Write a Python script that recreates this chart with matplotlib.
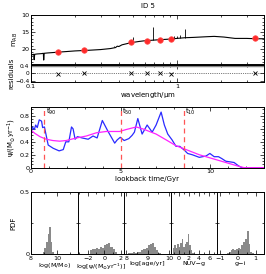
import numpy as np
import matplotlib
matplotlib.use("Agg")
import matplotlib.pyplot as plt
from matplotlib.ticker import MultipleLocator, NullFormatter

plt.rcParams['font.family'] = ['DejaVu Sans']
plt.rcParams['font.size'] = 5
plt.rcParams['xtick.labelsize'] = 4.6
plt.rcParams['ytick.labelsize'] = 4.6
plt.rcParams['mathtext.default'] = 'regular'

# photometry
phot_wl = [0.153, 0.231, 0.482, 0.626, 0.767, 0.910, 3.40]
phot_mag = [21.0, 20.4, 18.1, 17.6, 17.3, 17.1, 16.9]
resid = [-0.03, 0.02, 0.0, 0.0, 0.0, -0.03, 0.0]

# model spectrum (continuum)
spec_wl = [0.100, 0.1005, 0.102, 0.1045, 0.1052, 0.106, 0.110, 0.118, 0.1215, 0.1222, 0.1232,
           0.13, 0.15, 0.20, 0.25, 0.30, 0.35, 0.38, 0.39, 0.40, 0.42, 0.48, 0.55, 0.60,
           0.75, 0.90, 1.00, 1.13, 1.30, 1.60, 1.80, 2.10, 2.50, 3.00, 3.50, 3.95]
spec_mag = [23.6, 22.0, 21.7, 21.6, 23.2, 21.6, 21.5, 21.4, 21.3, 23.3, 21.3,
            21.2, 21.0, 20.6, 20.4, 20.2, 19.9, 19.6, 19.2, 19.3, 18.8, 18.2, 17.8, 17.6,
            17.3, 17.1, 16.9, 16.7, 16.6, 16.4, 16.3, 16.5, 16.9, 16.9, 17.0, 17.0]
# emission lines
line_wl = [0.373, 0.500, 0.685, 0.95, 1.00, 1.05, 1.135]
line_base = [19.5, 18.0, 17.4, 17.0, 16.9, 16.8, 16.7]
line_top = [19.0, 16.6, 13.4, 16.3, 16.1, 16.0, 14.1]

# star formation history
t_sfh = [0.0, 0.07, 0.19, 0.26, 0.35, 0.46, 0.59, 0.65, 0.75, 0.96, 1.24, 1.57, 1.80, 1.94,
         2.11, 2.26, 2.35, 2.46, 2.59, 2.85, 3.19, 3.46, 3.69, 3.98, 4.30, 4.67, 4.81, 4.98,
         5.20, 5.46, 5.64, 5.77, 5.96, 6.20, 6.48, 6.76, 6.98, 7.26, 7.44, 7.63, 7.87, 8.09,
         8.30, 8.56, 8.74, 9.00, 9.39, 9.76, 9.98, 10.22, 10.46, 10.65, 10.87, 11.11, 11.33,
         11.57, 11.76, 13.0]
psi_sfh = [0.51, 0.63, 0.59, 0.66, 0.62, 0.74, 0.72, 0.62, 0.63, 0.35, 0.30, 0.26, 0.28, 0.40,
           0.40, 0.63, 0.60, 0.44, 0.48, 0.46, 0.44, 0.49, 0.46, 0.73, 0.56, 0.38, 0.43, 0.47,
           0.42, 0.45, 0.50, 0.55, 0.76, 0.52, 0.66, 0.55, 0.66, 0.86, 0.66, 0.52, 0.43, 0.33,
           0.33, 0.27, 0.22, 0.20, 0.16, 0.18, 0.22, 0.17, 0.17, 0.14, 0.10, 0.09, 0.08,
           0.03, 0.0, 0.0]
t_smooth = [0.0, 0.22, 0.5, 0.85, 1.22, 1.6, 1.96, 2.54, 3.09, 3.65, 4.2, 4.94, 5.31, 5.87,
            6.24, 6.61, 6.98, 7.54, 8.09, 8.65, 9.39, 10.13, 10.87, 11.61, 11.9, 13.0]
psi_smooth = [0.58, 0.53, 0.48, 0.44, 0.42, 0.41, 0.42, 0.46, 0.49, 0.54, 0.56, 0.56, 0.59, 0.63,
              0.60, 0.56, 0.52, 0.43, 0.34, 0.28, 0.20, 0.14, 0.08, 0.02, 0.0, 0.0]
t_marks = [0.74, 5.0, 8.52]
t_names = ['90', '50', '10']

# posterior histograms
mass_c = [8.95, 9.075, 9.2, 9.325, 9.45, 9.575, 9.7]
mass_h = [0.02, 0.05, 0.10, 0.16, 0.22, 0.10, 0.02]
sfr_c = [-1.625, -1.375, -1.125, -0.875, -0.625, -0.375, -0.125, 0.125, 0.375, 0.625, 0.875, 1.125, 1.375]
sfr_h = [0.03, 0.04, 0.04, 0.05, 0.04, 0.06, 0.05, 0.07, 0.08, 0.09, 0.06, 0.04, 0.02]
age_c = [8.15, 8.25, 8.35, 8.45, 8.55, 8.65, 8.75, 8.85, 8.95, 9.05, 9.15, 9.25, 9.35, 9.45, 9.55]
age_h = [0.01, 0.01, 0.015, 0.01, 0.015, 0.02, 0.03, 0.04, 0.05, 0.07, 0.08, 0.09, 0.06, 0.03, 0.01]
nuvg_c = [-1.05, -0.75, -0.45, -0.15, 0.15, 0.45, 0.75, 1.05, 1.35, 1.65, 1.95, 2.25, 2.55, 2.85]
nuvg_h = [0.05, 0.07, 0.05, 0.08, 0.06, 0.09, 0.12, 0.06, 0.08, 0.10, 0.16, 0.07, 0.03, 0.01]
gi_c = [-0.55, -0.45, -0.35, -0.25, -0.15, -0.05, 0.05, 0.15, 0.25, 0.35, 0.45, 0.55, 0.65, 0.75, 0.85]
gi_h = [0.01, 0.02, 0.03, 0.04, 0.03, 0.04, 0.05, 0.04, 0.07, 0.10, 0.12, 0.19, 0.08, 0.02, 0.01]

hists = [(mass_c, mass_h, 0.125, (8, 11.56), 2, 1, r'log(M/M$_{\odot}$)'),
         (sfr_c, sfr_h, 0.25, (-3.2, 2.4), 2, 1, r'log[$\psi$/(M$_{\odot}$yr$^{-1}$)]'),
         (age_c, age_h, 0.1, (7.9, 10.08), 1, 0.5, 'log[age/yr]'),
         (nuvg_c, nuvg_h, 0.3, (-1.55, 7.6), 2, 1, 'NUV\u2212g'),
         (gi_c, gi_h, 0.1, (-1.13, 1.46), 1, 0.5, 'g\u2212i')]


def style(ax):
    ax.tick_params(which='both', direction='in', top=True, right=True, pad=1.2, width=0.5)
    ax.tick_params(which='major', length=3)
    ax.tick_params(which='minor', length=1.5)
    for s in ax.spines.values():
        s.set_linewidth(0.7)


fig = plt.figure(figsize=(2.66, 2.74), dpi=100)
L, W = 0.1165, 0.876

# spectrum panel
ax1 = fig.add_axes([L, 0.766, W, 0.179])
ax1.plot(spec_wl, spec_mag, color='k', lw=0.8)
ax1.vlines(line_wl, line_base, line_top, color='k', lw=0.6)
ax1.plot(phot_wl, phot_mag, 'o', color='#ff2a2a', ms=4, mec='#ff5050', mew=0.5, zorder=5)
ax1.set_xscale('log')
ax1.set_xlim(0.1, 3.95)
ax1.set_ylim(24.5, 10)
ax1.yaxis.set_major_locator(MultipleLocator(5))
ax1.yaxis.set_minor_locator(MultipleLocator(1))
ax1.xaxis.set_major_formatter(NullFormatter())
ax1.xaxis.set_minor_formatter(NullFormatter())
ax1.set_ylabel(r'm$_{AB}$', labelpad=1)
ax1.set_title('ID 5', fontsize=5, pad=5)
style(ax1)

# residual panel
ax2 = fig.add_axes([L, 0.701, W, 0.062])
ax2.axhline(0, color='k', lw=0.5, ls=':')
ax2.plot(phot_wl, resid, 'x', color='k', ms=2.5, mew=0.6)
ax2.axhline(0.47, color='#888888', lw=2.5)
ax2.set_xscale('log')
ax2.set_xlim(0.1, 3.95)
ax2.set_ylim(-0.47, 0.47)
ax2.set_yticks([-0.4, 0, 0.4])
ax2.set_yticklabels(['\u22120.4', '0', '0.4'], fontsize=4.2)
ax2.set_xticks([0.1, 1])
ax2.set_xticklabels(['0.1', '1'])
ax2.xaxis.set_minor_formatter(NullFormatter())
ax2.set_xlabel(r'wavelength/$\mu$m', labelpad=1)
ax2.set_ylabel('residuals', labelpad=0.5)
style(ax2)

# SFH panel
ax3 = fig.add_axes([L, 0.388, W, 0.223])
ax3.plot(t_sfh, psi_sfh, color='#2a2aff', lw=0.9)
ax3.plot(t_smooth, psi_smooth, color='#ff22ff', lw=0.9)
for t, n in zip(t_marks, t_names):
    ax3.axvline(t, color='#ff5555', ls=(0, (4, 3)), lw=0.9)
    ax3.text(t + 0.1, 0.84, r't$_{%s}$' % n, fontsize=5)
ax3.set_xlim(0, 13)
ax3.set_ylim(0, 0.945)
ax3.xaxis.set_major_locator(MultipleLocator(5))
ax3.xaxis.set_minor_locator(MultipleLocator(1))
ax3.yaxis.set_minor_locator(MultipleLocator(0.05))
ax3.set_yticks([0, 0.2, 0.4, 0.6, 0.8])
ax3.set_yticklabels(['0', '0.2', '0.4', '0.6', '0.8'])
ax3.set_xlabel('lookback time/Gyr', labelpad=1)
ax3.set_ylabel(r'$\psi$/(M$_{\odot}$yr$^{-1}$)', labelpad=1)
style(ax3)

# posterior histograms
hw = W / 5
for i, (c, h, w, xl, mj, mn, lab) in enumerate(hists):
    ax = fig.add_axes([L + i * hw, 0.073, hw, 0.225])
    ax.bar(c, h, width=w, color='#8a8a8a', edgecolor='none')
    ax.set_xlim(*xl)
    ax.set_ylim(0, 0.5)
    ax.xaxis.set_major_locator(MultipleLocator(mj))
    ax.xaxis.set_minor_locator(MultipleLocator(mn))
    ax.set_yticks([0, 0.5])
    ax.yaxis.set_minor_locator(MultipleLocator(0.25))
    ax.set_xlabel(lab, labelpad=0.5, fontsize=4.6)
    style(ax)
    if i == 0:
        ax.set_yticklabels(['0', '0.5'])
        ax.set_ylabel('PDF', labelpad=2)
    else:
        ax.set_yticklabels([])
    ticks = [v for v in ax.get_xticks() if xl[0] - 1e-6 <= v <= xl[1]]
    ax.set_xticks(ticks)
    ax.set_xticklabels([('%g' % v).replace('-', '\u2212') for v in ticks])

fig.savefig('out.png', dpi=100)
